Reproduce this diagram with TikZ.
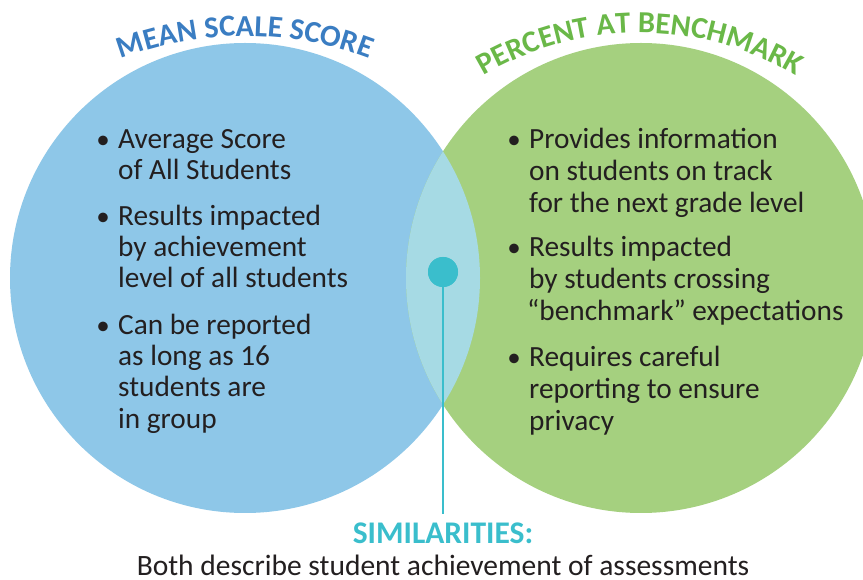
\documentclass[tikz,border=0pt]{standalone}
\usepackage{fontspec}
\setmainfont{Carlito}
\usetikzlibrary{decorations.text}
\definecolor{cblue}{RGB}{142,199,232}
\definecolor{cgreen}{RGB}{165,208,127}
\definecolor{cover}{RGB}{166,218,228}
\definecolor{tblue}{RGB}{58,125,194}
\definecolor{tgreen}{RGB}{106,184,72}
\definecolor{cteal}{RGB}{58,190,204}
\definecolor{ctext}{RGB}{35,31,32}
\begin{document}
\begin{tikzpicture}[x=1pt,y=1pt,
  bodytext/.style={font=\fontsize{29.3}{31}\selectfont, text=ctext, inner sep=0pt, anchor=base west},
  bul/.style={font=\fontsize{27}{30}\selectfont, text=ctext, inner sep=0pt, anchor=base}]
\useasboundingbox (0,0) rectangle (863,579);
\fill[white] (0,0) rectangle (863,579);
\begin{scope}
  \clip (0,0) rectangle (863,579);
  \fill[cblue] (245,301) circle[radius=235];
  \fill[cgreen] (641,301) circle[radius=235];
  \clip (245,301) circle[radius=235];
  \fill[cover] (641,301) circle[radius=235];
\end{scope}
% titles
\path[decorate, decoration={text along path, text align=center, text color=tblue,
  text={|\fontsize{30.5}{30}\selectfont\bfseries|MEAN SCALE SCORE}}]
  (245,193) ++(125:350) arc[start angle=125, end angle=55, radius=350];
\path[decorate, decoration={text along path, text align=center, text color=tgreen,
  text={|\fontsize{30.5}{30}\selectfont\bfseries|PERCENT AT BENCHMARK}}]
  (640,239) ++(140:307) arc[start angle=140, end angle=40, radius=307];
% left bullets
\node[bul] (lb1) at (103,430) {•};
\node[bodytext] (l1) at (118,430) {Average Score};
\node[bodytext] (l2) at (118,399) {of All Students};
\node[bul] (lb2) at (103,353) {•};
\node[bodytext] (l3) at (118,353) {Results impacted};
\node[bodytext] (l4) at (118,322) {by achievement};
\node[bodytext] (l5) at (118,291) {level of all students};
\node[bul] (lb3) at (103,244) {•};
\node[bodytext] (l6) at (118,244) {Can be reported};
\node[bodytext] (l7) at (118,213) {as long as 16};
\node[bodytext] (l8) at (118,182) {students are};
\node[bodytext] (l9) at (118,150) {in group};
% right bullets
\node[bul] (rb1) at (514,430) {•};
\node[bodytext] (r1) at (529,430) {Provides information};
\node[bodytext] (r2) at (529,398) {on students on track};
\node[bodytext] (r3) at (529,366) {for the next grade level};
\node[bul] (rb2) at (514,322) {•};
\node[bodytext] (r4) at (529,322) {Results impacted};
\node[bodytext] (r5) at (529,290) {by students crossing};
\node[bodytext] (r6) at (527,258) {“benchmark” expectations};
\node[bul] (rb3) at (514,212) {•};
\node[bodytext] (r7) at (529,212) {Requires careful};
\node[bodytext] (r8) at (529,180) {reporting to ensure};
\node[bodytext] (r9) at (529,148) {privacy};
% similarities
\node[font=\bfseries\fontsize{31.5}{31}\selectfont, text=cteal, inner sep=0pt] (sim) at (443,46) {SIMILARITIES:};
\node[font=\fontsize{29.5}{30}\selectfont, text=ctext, inner sep=0pt] (both) at (443,13.5) {Both describe student achievement of assessments};
\coordinate (lineend) at (443,65);
\node[circle, fill=cteal, minimum size=30pt, inner sep=0pt] (dot) at (443,307) {};
\draw[cteal, line width=2pt] (dot.center) -- (lineend);
\node[circle, fill=cteal, minimum size=30pt, inner sep=0pt] at (dot.center) {};
\end{tikzpicture}
\end{document}
